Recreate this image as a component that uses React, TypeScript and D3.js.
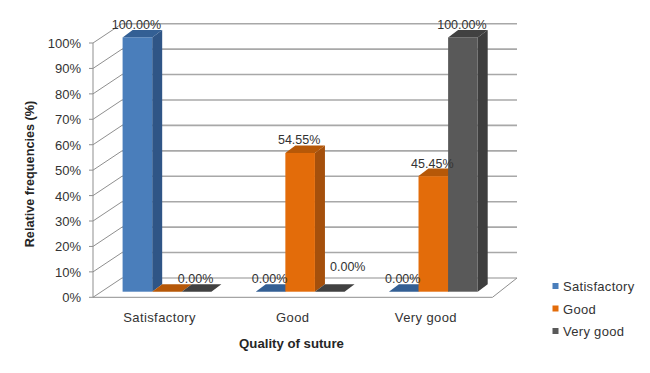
import React from 'react';
import * as d3 from 'd3';

const categories = ['Satisfactory', 'Good', 'Very good'];
const seriesNames = ['Satisfactory', 'Good', 'Very good'];
const satisfactory = [100, 0, 0];
const good = [0, 54.55, 45.45];
const veryGood = [0, 0, 100];
const yTicks = [0, 10, 20, 30, 40, 50, 60, 70, 80, 90, 100];

const colors = [
  { front: '#4a7ebb', side: '#2f5586', top: '#335f94' },
  { front: '#e36c0a', side: '#a5500c', top: '#b65808' },
  { front: '#595959', side: '#3e3e3e', top: '#414141' },
];

const width = 650;
const height = 373;
const front = { left: 93, right: 492.5 };
const back = { left: 122, right: 517 };
const y0 = 297.3;
const y100 = 43;
const wallRise = 19.3;
// bars sit a little way back on the floor
const barLift = 5.6;
const barShift = 7.4;
const barDepth = { x: 10, y: 7.5 };

const App = () => {
  const y = d3.scaleLinear().domain([0, 100]).range([y0, y100]);
  const x0 = d3
    .scaleBand()
    .domain(categories)
    .range([front.left, front.right])
    .paddingInner(1 / 3)
    .paddingOuter(1 / 6);
  const x1 = d3.scaleBand().domain(seriesNames).range([0, x0.bandwidth()]);

  const series = [satisfactory, good, veryGood];

  // which labels are shown, and the ones pushed out of their default place
  const hiddenLabels = ['0-1'];
  const labelNudge: Record<string, [number, number]> = {
    '1-2': [19, -12],
  };

  const gridColor = '#a8a8a8';
  const axisColor = '#8f8f8f';
  const textColor = '#333333';

  return (
    <svg
      width={width}
      height={height}
      style={{ position: 'absolute', left: 0, top: 0, background: '#fff' }}
      fontFamily="'Liberation Sans', Arial, sans-serif"
    >
      {/* back wall gridlines and left wall diagonals */}
      {yTicks.map((t) => (
        <g key={t}>
          <line
            x1={back.left}
            x2={back.right}
            y1={y(t) - wallRise}
            y2={y(t) - wallRise}
            stroke={t === 0 ? axisColor : gridColor}
            strokeWidth={t === 0 ? 1 : 1.6}
          />
          <line x1={front.left} x2={back.left} y1={y(t)} y2={y(t) - wallRise} stroke={axisColor} />
          <line x1={front.left - 4} x2={front.left} y1={y(t)} y2={y(t)} stroke={axisColor} />
          <text x={81} y={y(t) + 5} textAnchor="end" fontSize={13} fill={textColor}>
            {t}%
          </text>
        </g>
      ))}

      {/* floor */}
      <line x1={front.left} x2={front.left} y1={y0} y2={y100} stroke={axisColor} />
      <line x1={front.left} x2={front.right} y1={y0} y2={y0} stroke={axisColor} />
      <line x1={front.right} x2={back.right} y1={y0} y2={y0 - wallRise} stroke={axisColor} />

      {/* bars */}
      {categories.map((c, ci) =>
        seriesNames.map((s, si) => {
          const left = x0(c)! + x1(s)! + barShift;
          const right = left + x1.bandwidth();
          const bottom = y(0) - barLift;
          const top = y(series[si][ci]) - barLift;
          const dx = barDepth.x;
          const dy = barDepth.y;
          return (
            <g key={`${c}-${s}`}>
              <path
                d={`M${right},${bottom}L${right + dx},${bottom - dy}L${right + dx},${top - dy}L${right},${top}Z`}
                fill={colors[si].side}
              />
              <path
                d={`M${left},${top}L${left + dx},${top - dy}L${right + dx},${top - dy}L${right},${top}Z`}
                fill={colors[si].top}
              />
              <rect x={left} y={top} width={right - left} height={bottom - top} fill={colors[si].front} />
            </g>
          );
        }),
      )}

      {/* data labels */}
      {categories.map((c, ci) =>
        seriesNames.map((s, si) => {
          const shown = `${ci}-${si}`;
          if (hiddenLabels.includes(shown)) return null;
          const nudge = labelNudge[shown] ?? [0, 0];
          return (
            <text
              key={shown}
              x={x0(c)! + x1(s)! + barShift + x1.bandwidth() / 2 - 1 + nudge[0]}
              y={y(series[si][ci]) - barLift - 8.5 + nudge[1]}
              textAnchor="middle"
              fontSize={12.5}
              fill={textColor}
            >
              {series[si][ci].toFixed(2)}%
            </text>
          );
        }),
      )}

      {/* category labels */}
      {categories.map((c) => (
        <text
          key={c}
          x={x0(c)! + x0.bandwidth() / 2}
          y={322}
          textAnchor="middle"
          fontSize={13}
          letterSpacing={0.4}
          fill={textColor}
        >
          {c}
        </text>
      ))}

      {/* axis titles */}
      <text x={291.5} y={348} textAnchor="middle" fontSize={13.2} fontWeight="bold" fill="#262626">
        Quality of suture
      </text>
      <text
        transform="translate(34,174) rotate(-90)"
        textAnchor="middle"
        fontSize={12.7}
        fontWeight="bold"
        fill="#262626"
      >
        Relative frequencies (%)
      </text>

      {/* legend */}
      {seriesNames.map((s, i) => (
        <g key={s} transform={`translate(0,${i * 22.5})`}>
          <rect x={552.5} y={283} width={6} height={6} fill={colors[i].front} />
          <text x={563} y={291} fontSize={13} letterSpacing={0.3} fill={textColor}>
            {s}
          </text>
        </g>
      ))}
    </svg>
  );
};

export default App;
